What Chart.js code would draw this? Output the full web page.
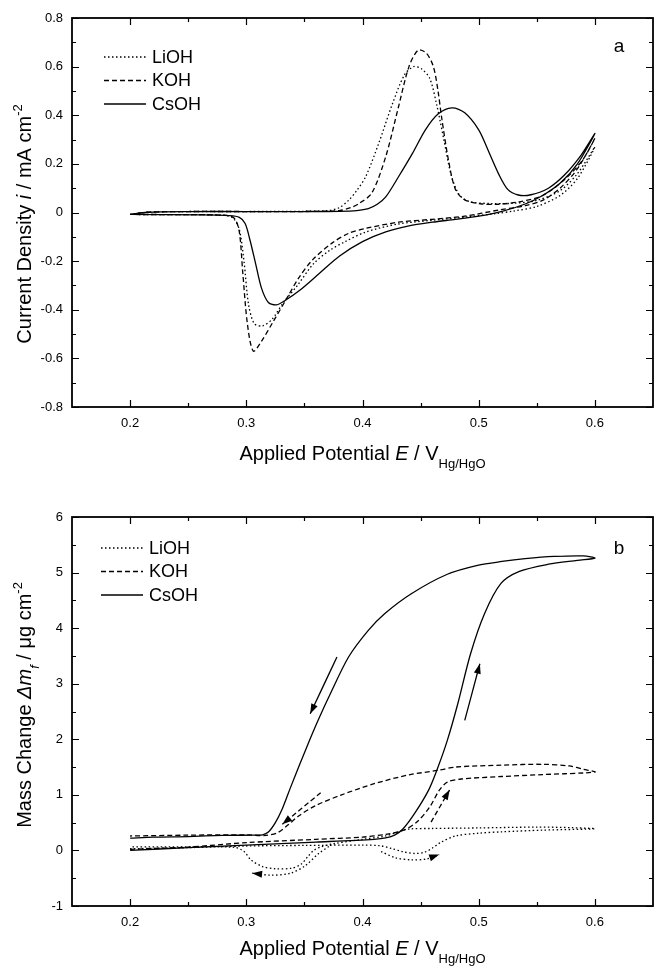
<!DOCTYPE html>
<html>
<head>
<meta charset="utf-8">
<script src="https://cdn.jsdelivr.net/npm/chart.js@4.4.1/dist/chart.umd.min.js"></script>
<style>
  html, body { margin: 0; padding: 0; background: #fff; }
  .panel { position: relative; width: 654px; height: 483px; }
</style>
</head>
<body>
<div class="panel"><canvas id="chartA" width="654" height="483"></canvas></div>
<div class="panel"><canvas id="chartB" width="654" height="483"></canvas></div>
<script>
// ---- data (E in V vs Hg/HgO) ----
const seriesNames = ["LiOH", "KOH", "CsOH"];

const xTicks = [0.2, 0.3, 0.4, 0.5, 0.6];
const xTickLabels = ["0.2", "0.3", "0.4", "0.5", "0.6"];
const xMinorTicks = [0.25, 0.35, 0.45, 0.55];

const yTicksA = [-0.8, -0.6, -0.4, -0.2, 0, 0.2, 0.4, 0.6, 0.8];
const yTickLabelsA = ["-0.8", "-0.6", "-0.4", "-0.2", "0", "0.2", "0.4", "0.6", "0.8"];
const yMinorTicksA = [-0.7, -0.5, -0.3, -0.1, 0.1, 0.3, 0.5, 0.7];

const yTicksB = [-1, 0, 1, 2, 3, 4, 5, 6];
const yTickLabelsB = ["-1", "0", "1", "2", "3", "4", "5", "6"];
const yMinorTicksB = [-0.5, 0.5, 1.5, 2.5, 3.5, 4.5, 5.5];

// panel a: current density, mA cm-2
const cvLiOH = [
  [0.2,-0.008],[0.215,0.001],[0.25,0.004],[0.3,0.004],[0.35,0.005],[0.37,0.008],[0.38,0.02],[0.388,0.05],
  [0.395,0.09],[0.403,0.15],[0.414,0.285],[0.426,0.45],[0.436,0.565],[0.444,0.6],[0.451,0.59],[0.458,0.55],
  [0.464,0.44],[0.47,0.3],[0.476,0.16],[0.483,0.075],[0.492,0.045],[0.51,0.037],[0.53,0.038],[0.55,0.05],
  [0.57,0.09],[0.585,0.16],[0.6,0.27],
  [0.585,0.14],[0.57,0.07],[0.55,0.025],[0.53,0.006],[0.515,-0.004],[0.49,-0.018],[0.46,-0.032],[0.43,-0.048],
  [0.403,-0.08],[0.385,-0.12],[0.372,-0.155],[0.358,-0.21],[0.344,-0.3],[0.332,-0.37],[0.322,-0.44],
  [0.314,-0.466],[0.307,-0.458],[0.302,-0.38],[0.298,-0.2],[0.294,-0.07],[0.289,-0.025],[0.282,-0.012],
  [0.25,-0.009],[0.2,-0.008]
];
const cvKOH = [
  [0.2,-0.008],[0.215,0.001],[0.25,0.004],[0.3,0.004],[0.35,0.004],[0.38,0.008],[0.39,0.02],[0.397,0.037],
  [0.408,0.08],[0.42,0.23],[0.431,0.435],[0.44,0.6],[0.448,0.668],[0.455,0.655],[0.461,0.6],[0.465,0.5],
  [0.468,0.394],[0.474,0.215],[0.48,0.095],[0.488,0.052],[0.503,0.035],[0.517,0.034],[0.535,0.044],
  [0.555,0.07],[0.575,0.14],[0.59,0.22],[0.6,0.305],
  [0.585,0.18],[0.57,0.1],[0.555,0.05],[0.54,0.028],[0.517,0.01],[0.488,-0.015],[0.46,-0.028],[0.431,-0.04],
  [0.403,-0.065],[0.388,-0.086],[0.374,-0.125],[0.357,-0.195],[0.345,-0.27],[0.334,-0.36],[0.323,-0.45],
  [0.313,-0.53],[0.306,-0.57],[0.301,-0.46],[0.297,-0.25],[0.294,-0.08],[0.29,-0.025],[0.283,-0.012],
  [0.25,-0.009],[0.2,-0.008]
];
const cvCsOH = [
  [0.2,-0.008],[0.215,0.001],[0.25,0.004],[0.3,0.004],[0.35,0.004],[0.38,0.005],[0.395,0.008],[0.405,0.016],
  [0.413,0.035],[0.42,0.064],[0.431,0.147],[0.443,0.243],[0.454,0.339],[0.465,0.405],[0.477,0.43],
  [0.488,0.41],[0.5,0.34],[0.508,0.257],[0.517,0.16],[0.525,0.095],[0.534,0.072],[0.545,0.073],[0.56,0.1],
  [0.574,0.155],[0.588,0.235],[0.6,0.325],
  [0.585,0.2],[0.57,0.12],[0.555,0.07],[0.54,0.035],[0.52,0.005],[0.5,-0.015],[0.48,-0.028],[0.46,-0.04],
  [0.44,-0.055],[0.42,-0.08],[0.4,-0.12],[0.38,-0.18],[0.363,-0.25],[0.346,-0.32],[0.334,-0.36],
  [0.326,-0.38],[0.319,-0.37],[0.313,-0.31],[0.308,-0.21],[0.303,-0.11],[0.299,-0.045],[0.294,-0.02],
  [0.285,-0.013],[0.26,-0.01],[0.2,-0.008]
];

// panel b: mass change, ug cm-2
const massLiOH = [
  [0.2,0.03],[0.25,0.05],[0.3,0.08],[0.35,0.09],[0.4,0.095],[0.415,0.085],[0.425,0.035],[0.435,-0.025],
  [0.445,-0.055],[0.453,-0.035],[0.46,0.04],[0.467,0.14],[0.48,0.26],[0.5,0.31],[0.52,0.335],[0.555,0.365],
  [0.6,0.39],
  [0.58,0.41],[0.55,0.42],[0.5,0.405],[0.46,0.395],[0.44,0.385],[0.43,0.33],[0.42,0.26],[0.4,0.2],
  [0.375,0.12],[0.365,0.07],[0.358,0.0],[0.353,-0.11],[0.347,-0.25],[0.339,-0.32],[0.325,-0.33],
  [0.314,-0.29],[0.304,-0.17],[0.298,-0.02],[0.29,0.055],[0.25,0.065],[0.2,0.065]
];
const massKOH = [
  [0.2,0.02],[0.25,0.06],[0.3,0.14],[0.36,0.2],[0.4,0.24],[0.42,0.29],[0.435,0.36],[0.447,0.515],
  [0.458,0.785],[0.466,1.08],[0.473,1.23],[0.485,1.285],[0.52,1.33],[0.555,1.365],[0.6,1.41],
  [0.59,1.46],[0.578,1.52],[0.555,1.55],[0.52,1.535],[0.48,1.5],[0.465,1.44],[0.44,1.36],[0.41,1.2],
  [0.382,1.0],[0.36,0.81],[0.345,0.62],[0.336,0.46],[0.327,0.32],[0.317,0.27],[0.3,0.28],[0.25,0.275],[0.2,0.26]
];
const massCsOH = [
  [0.2,0.0],[0.25,0.05],[0.3,0.095],[0.36,0.15],[0.41,0.2],[0.42,0.225],[0.428,0.28],[0.435,0.39],
  [0.445,0.67],[0.457,1.09],[0.465,1.5],[0.473,1.98],[0.482,2.64],[0.493,3.54],[0.505,4.26],[0.519,4.8],
  [0.535,5.02],[0.56,5.15],[0.585,5.22],[0.6,5.26],
  [0.59,5.3],[0.565,5.29],[0.54,5.25],[0.52,5.2],[0.499,5.13],[0.473,4.97],[0.442,4.62],[0.419,4.26],
  [0.405,3.96],[0.388,3.48],[0.371,2.76],[0.362,2.35],[0.354,1.96],[0.346,1.55],[0.338,1.13],
  [0.331,0.75],[0.325,0.5],[0.319,0.33],[0.314,0.28],[0.306,0.275],[0.28,0.27],[0.25,0.25],[0.22,0.24],[0.2,0.22]
];

// scan direction arrows in panel b (last point = tip)
const arrowCsOHDown = [[0.378,3.48],[0.355,2.46]];
const arrowCsOHUp = [[0.488,2.34],[0.501,3.36]];
const arrowKOHDown = [[0.364,1.04],[0.331,0.47]];
const arrowKOHUp = [[0.459,0.51],[0.475,1.09]];
const arrowLiOHDown = [[0.371,0.07],[0.362,-0.06],[0.351,-0.27],[0.338,-0.41],[0.321,-0.445],[0.305,-0.41]];
const arrowLiOHUp = [[0.416,-0.02],[0.428,-0.13],[0.442,-0.17],[0.455,-0.155],[0.466,-0.075]];

// ---- styling ----
const FONT = '"Liberation Sans", Arial, Helvetica, sans-serif';
Chart.defaults.font.family = FONT;
Chart.defaults.color = "#000";

const dashFor = { LiOH: [1.5, 2.5], KOH: [5, 3], CsOH: [] };

function series(label, pts, extra) {
  return Object.assign({
    label: label,
    data: pts.map(p => ({ x: p[0], y: p[1] })),
    showLine: true,
    borderColor: "#000",
    borderWidth: 1.3,
    borderDash: dashFor[label],
    pointRadius: 0,
    tension: 0.3,
    fill: false,
  }, extra || {});
}

// rich text: parts = [text, style], style '', 'i', 'sub', 'isub', 'sup'
function richText(ctx, parts, cx, cy, size) {
  const small = Math.round(size * 0.65);
  const fontFor = st => ((st === "i" || st === "isub") ? "italic " : "") +
    ((st === "sub" || st === "isub" || st === "sup") ? small : size) + "px " + FONT;
  let w = 0;
  parts.forEach(([t, st]) => { ctx.font = fontFor(st); w += ctx.measureText(t).width; });
  let x = cx - w / 2;
  const base = cy + size * 0.36;
  ctx.textAlign = "left";
  ctx.textBaseline = "alphabetic";
  parts.forEach(([t, st]) => {
    ctx.font = fontFor(st);
    let dy = 0;
    if (st === "sub" || st === "isub") dy = size * 0.4;
    if (st === "sup") dy = -size * 0.45;
    ctx.fillText(t, x, base + dy);
    x += ctx.measureText(t).width;
  });
}

const framePlugin = {
  id: "frame",
  afterDatasetsDraw(chart, args, o) {
    const ctx = chart.ctx;
    const a = chart.chartArea;
    const xs = chart.scales.x, ys = chart.scales.y;
    ctx.save();
    ctx.strokeStyle = "#000";
    ctx.fillStyle = "#000";
    ctx.setLineDash([]);

    // frame
    ctx.lineWidth = 1.8;
    ctx.strokeRect(a.left, a.top, a.right - a.left, a.bottom - a.top);

    // inward ticks on all four sides
    ctx.lineWidth = 1.2;
    ctx.beginPath();
    const xt = (vals, len) => vals.forEach(v => {
      const px = Math.round(xs.getPixelForValue(v)) + 0.5;
      ctx.moveTo(px, a.bottom); ctx.lineTo(px, a.bottom - len);
      ctx.moveTo(px, a.top); ctx.lineTo(px, a.top + len);
    });
    const yt = (vals, len) => vals.forEach(v => {
      const py = Math.round(ys.getPixelForValue(v)) + 0.5;
      ctx.moveTo(a.left, py); ctx.lineTo(a.left + len, py);
      ctx.moveTo(a.right, py); ctx.lineTo(a.right - len, py);
    });
    xt(xTicks, 7); xt(xMinorTicks, 4);
    yt(o.yMajor, 7); yt(o.yMinor, 4);
    ctx.stroke();

    // arrowheads
    chart.data.datasets.forEach(ds => {
      if (!ds.arrow) return;
      const n = ds.data.length;
      const p1 = ds.data[n - 2], p2 = ds.data[n - 1];
      const x1 = xs.getPixelForValue(p1.x), y1 = ys.getPixelForValue(p1.y);
      const x2 = xs.getPixelForValue(p2.x), y2 = ys.getPixelForValue(p2.y);
      const ang = Math.atan2(y2 - y1, x2 - x1);
      const L = 10, W = 3.5;
      ctx.beginPath();
      ctx.moveTo(x2, y2);
      ctx.lineTo(x2 - L * Math.cos(ang) + W * Math.sin(ang), y2 - L * Math.sin(ang) - W * Math.cos(ang));
      ctx.lineTo(x2 - L * Math.cos(ang) - W * Math.sin(ang), y2 - L * Math.sin(ang) + W * Math.cos(ang));
      ctx.closePath();
      ctx.fill();
    });

    // legend
    let ly = o.legendY;
    chart.data.datasets.forEach(ds => {
      if (ds.arrow) return;
      ctx.lineWidth = ds.borderWidth;
      ctx.setLineDash(ds.borderDash);
      ctx.beginPath();
      ctx.moveTo(o.legendX, ly);
      ctx.lineTo(o.legendX + 42, ly);
      ctx.stroke();
      ctx.setLineDash([]);
      ctx.font = "18px " + FONT;
      ctx.textAlign = "left";
      ctx.textBaseline = "middle";
      ctx.fillText(ds.label, o.legendX + 48, ly + 1);
      ly += 23.5;
    });

    // panel letter
    ctx.font = "19px " + FONT;
    ctx.textAlign = "center";
    ctx.textBaseline = "middle";
    ctx.fillText(o.letter, 619, o.letterY);

    // axis titles
    richText(ctx, o.xTitle, (a.left + a.right) / 2, o.xTitleY, 20);
    ctx.save();
    ctx.translate(24, o.yTitleY);
    ctx.rotate(-Math.PI / 2);
    richText(ctx, o.yTitle, 0, 0, 20);
    ctx.restore();

    ctx.restore();
  }
};

const xTitle = [["Applied Potential ", ""], ["E", "i"], [" / V", ""], ["Hg/HgO", "sub"]];

function makeChart(id, cfg) {
  return new Chart(document.getElementById(id).getContext("2d"), {
    type: "scatter",
    data: { datasets: cfg.datasets },
    plugins: [framePlugin],
    options: {
      responsive: false,
      animation: false,
      events: [],
      layout: { padding: { top: cfg.top, right: 1, left: 0, bottom: 0 } },
      plugins: {
        legend: { display: false },
        tooltip: { enabled: false },
        frame: cfg.frame,
      },
      scales: {
        x: {
          type: "linear", min: 0.15, max: 0.65,
          afterFit: s => { s.height = cfg.xHeight; },
          afterBuildTicks: s => { s.ticks = xTicks.map(v => ({ value: v })); },
          ticks: { callback: (v, i) => xTickLabels[i], padding: 9, font: { size: 13 }, maxRotation: 0, autoSkip: false },
          grid: { display: false, drawTicks: false },
          border: { display: false },
        },
        y: {
          type: "linear", min: cfg.yMin, max: cfg.yMax,
          afterFit: s => { s.width = 72; },
          afterBuildTicks: s => { s.ticks = cfg.yTicks.map(v => ({ value: v })); },
          ticks: { callback: (v, i) => cfg.yLabels[i], padding: 9, font: { size: 13 }, autoSkip: false },
          grid: { display: false, drawTicks: false },
          border: { display: false },
        },
      },
    },
  });
}

makeChart("chartA", {
  top: 18, xHeight: 76, yMin: -0.8, yMax: 0.8,
  yTicks: yTicksA, yLabels: yTickLabelsA,
  datasets: [
    series("LiOH", cvLiOH),
    series("KOH", cvKOH),
    series("CsOH", cvCsOH),
  ],
  frame: {
    yMajor: yTicksA, yMinor: yMinorTicksA,
    legendX: 104, legendY: 57, letter: "a", letterY: 47,
    xTitle: xTitle, xTitleY: 453,
    yTitle: [["Current Density ", ""], ["i", "i"], [" / mA cm", ""], ["-2", "sup"]], yTitleY: 224,
  },
});

makeChart("chartB", {
  top: 34, xHeight: 60, yMin: -1, yMax: 6,
  yTicks: yTicksB, yLabels: yTickLabelsB,
  datasets: [
    series("LiOH", massLiOH),
    series("KOH", massKOH),
    series("CsOH", massCsOH),
    series("CsOH", arrowCsOHDown, { arrow: true }),
    series("CsOH", arrowCsOHUp, { arrow: true }),
    series("KOH", arrowKOHDown, { arrow: true }),
    series("KOH", arrowKOHUp, { arrow: true }),
    series("LiOH", arrowLiOHDown, { arrow: true }),
    series("LiOH", arrowLiOHUp, { arrow: true }),
  ],
  frame: {
    yMajor: yTicksB, yMinor: yMinorTicksB,
    legendX: 101, legendY: 65, letter: "b", letterY: 66,
    xTitle: xTitle, xTitleY: 465,
    yTitle: [["Mass Change ", ""], ["Δm", "i"], ["f", "isub"], [" / μg cm", ""], ["-2", "sup"]], yTitleY: 222,
  },
});
</script>
</body>
</html>
